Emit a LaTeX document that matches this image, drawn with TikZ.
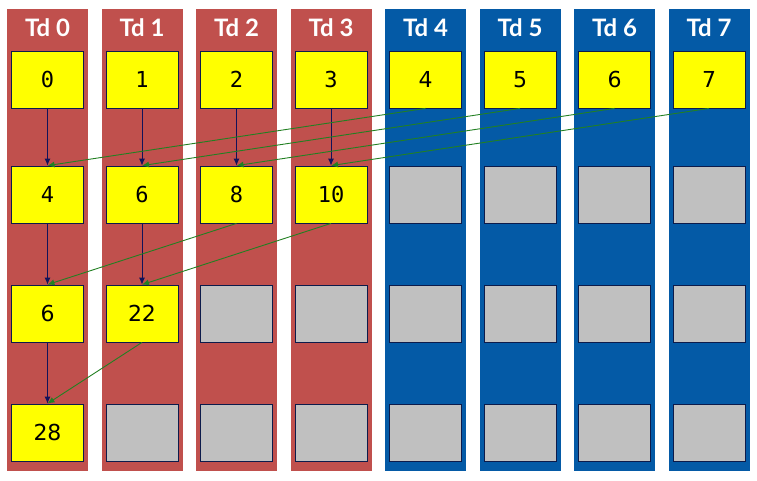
\documentclass[tikz,border=0pt]{standalone}
\usepackage{fontspec}
\usetikzlibrary{arrows.meta}
\newfontfamily\hdfont{Lato}
\newfontfamily\cellsans{DejaVu Sans}
\newfontfamily\cellmono{DejaVu Sans Mono}
\definecolor{tdred}{HTML}{C0504D}
\definecolor{tdblue}{HTML}{045AA6}
\definecolor{cellyel}{HTML}{FFFF00}
\definecolor{cellgray}{HTML}{C0C0C0}
\definecolor{edge}{HTML}{0C1B4B}
\definecolor{navy}{HTML}{12125A}
\definecolor{arrgreen}{HTML}{228022}

\begin{document}
\begin{tikzpicture}[
  x=1pt, y=-1pt,
  redcol/.style={fill=tdred, minimum width=81pt, minimum height=462pt,
                 inner sep=0pt},
  bluecol/.style={redcol, fill=tdblue},
  hd/.style={text=white, font=\hdfont\bfseries\fontsize{24}{28}\selectfont},
  cell/.style={draw=edge, fill=cellyel, minimum width=72pt,
               minimum height=57pt, inner sep=0pt, line width=0.8pt},
  idle/.style={cell, fill=cellgray},
  mono/.style={font=\cellmono\fontsize{22}{26}\selectfont},
  sans/.style={font=\cellsans\fontsize{22}{26}\selectfont},
  ar/.style={-{Latex[length=7pt,width=6pt]}, draw=navy, line width=0.9pt},
  gr/.style={ar, draw=arrgreen}
]
  \useasboundingbox (0,0) rectangle (757,480);

  % thread columns
  \foreach \i in {0,...,3}
    \node[redcol] (td\i) at ({47.5+94.5*\i},240) {};
  \foreach \i in {4,...,7}
    \node[bluecol] (td\i) at ({47.5+94.5*\i},240) {};
  \foreach \i in {0,...,7}
    \node[hd] (h\i) at ({47.5+94.5*\i},28) {Td \i};

  % level 0
  \foreach \i in {0,...,3}
    \node[cell, mono] (a\i) at ({47.5+94.5*\i},79.5) {\i};
  \foreach \i in {4,...,7}
    \node[cell, sans] (a\i) at ({47.5+94.5*\i},79.5) {\i};

  % level 1
  \foreach \i/\t in {0/4,1/6,2/8,3/10}
    \node[cell, mono] (b\i) at ({47.5+94.5*\i},194.5) {\t};
  \foreach \i in {4,...,7}
    \node[idle] (b\i) at ({47.5+94.5*\i},194.5) {};

  % level 2
  \node[cell, sans] (c0) at (47.5,313.5) {6};
  \node[cell, sans] (c1) at (142,313.5) {22};
  \foreach \i in {2,...,7}
    \node[idle] (c\i) at ({47.5+94.5*\i},313.5) {};

  % level 3
  \node[cell, sans] (d0) at (47.5,432.5) {28};
  \foreach \i in {1,...,7}
    \node[idle] (d\i) at ({47.5+94.5*\i},432.5) {};

  \foreach \s/\e in {a0/b0,a1/b1,a2/b2,a3/b3,b0/c0,b1/c1,c0/d0}
    \draw[ar] (\s.south)--(\e.north);
  \foreach \s/\e in {a4/b0,a5/b1,a6/b2,a7/b3,b2/c0,b3/c1,c1/d0}
    \draw[gr] (\s.south)--(\e.north);
\end{tikzpicture}
\end{document}
